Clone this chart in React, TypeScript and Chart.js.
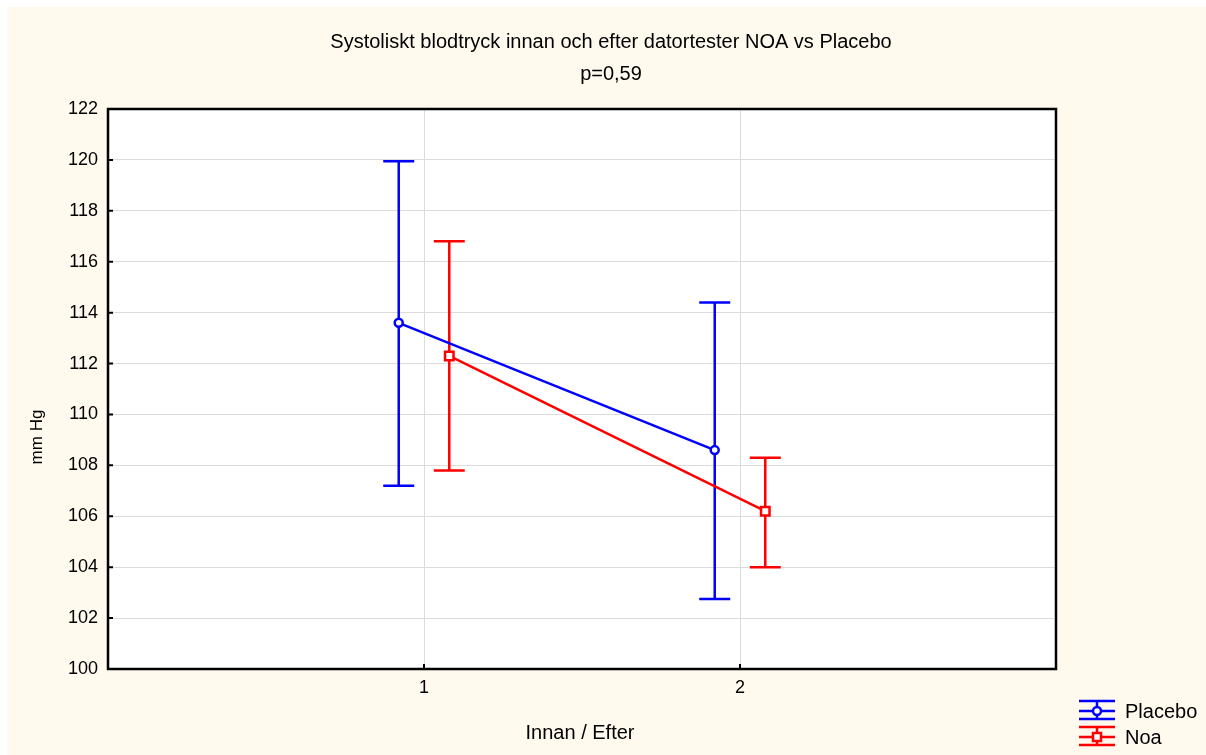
import React, { useEffect, useRef } from "react";
import { Chart, registerables } from "chart.js";

Chart.register(...registerables);

const titleLines = ["Systoliskt blodtryck innan och efter datortester NOA vs Placebo", "p=0,59"];
const xAxisTitle = "Innan / Efter";
const yAxisTitle = "mm Hg";
const categories = [1, 2];
const xTickLabels = ["1", "2"];
const yTicks = [100, 102, 104, 106, 108, 110, 112, 114, 116, 118, 120, 122];
const seriesNames = ["Placebo", "Noa"];
const placeboMean = [113.6, 108.6];
const placeboUpper = [119.95, 114.4];
const placeboLower = [107.2, 102.75];
const noaMean = [112.3, 106.2];
const noaUpper = [116.8, 108.3];
const noaLower = [107.8, 104.0];

const FONT = "'Liberation Sans', Arial, sans-serif";
const BLUE = "#0000ff";
const RED = "#ff0000";
const offsets = [-0.08, 0.08];
const colors = [BLUE, RED];
const pointStyles = ["circle", "rect"];
const pointRadii = [4, 6];
const means = [placeboMean, noaMean];
const uppers = [placeboUpper, noaUpper];
const lowers = [placeboLower, noaLower];

const decorPlugin = {
  id: "decor",
  beforeDraw(chart: any) {
    const { ctx, width, height, chartArea } = chart;
    ctx.save();
    ctx.fillStyle = "#ffffff";
    ctx.fillRect(0, 0, width, height);
    ctx.fillStyle = "#fff9ee";
    ctx.fillRect(7, 7, width - 7, height - 7);
    ctx.fillStyle = "#ffffff";
    ctx.fillRect(chartArea.left, chartArea.top, chartArea.right - chartArea.left, chartArea.bottom - chartArea.top);
    ctx.restore();
  },
  beforeDatasetsDraw(chart: any) {
    const { ctx } = chart;
    const xs = chart.scales.x;
    const ys = chart.scales.y;
    ctx.save();
    ctx.lineWidth = 2.5;
    for (let s = 0; s < 2; s++) {
      ctx.strokeStyle = colors[s];
      categories.forEach((c, i) => {
        const x = xs.getPixelForValue(c + offsets[s]);
        const yt = ys.getPixelForValue(uppers[s][i]);
        const yb = ys.getPixelForValue(lowers[s][i]);
        ctx.beginPath();
        ctx.moveTo(x, yt);
        ctx.lineTo(x, yb);
        ctx.moveTo(x - 15.5, yt);
        ctx.lineTo(x + 15.5, yt);
        ctx.moveTo(x - 15.5, yb);
        ctx.lineTo(x + 15.5, yb);
        ctx.stroke();
      });
    }
    ctx.restore();
  },
  afterDraw(chart: any) {
    const { ctx, chartArea } = chart;
    const xs = chart.scales.x;
    const ys = chart.scales.y;
    ctx.save();
    // frame
    ctx.strokeStyle = "#000";
    ctx.lineWidth = 2.5;
    ctx.strokeRect(chartArea.left, chartArea.top, chartArea.right - chartArea.left, chartArea.bottom - chartArea.top);
    // inner ticks
    ctx.lineWidth = 2;
    ctx.beginPath();
    yTicks.forEach((v) => {
      const y = ys.getPixelForValue(v);
      ctx.moveTo(chartArea.left, y);
      ctx.lineTo(chartArea.left + 5, y);
    });
    categories.forEach((v) => {
      const x = xs.getPixelForValue(v);
      ctx.moveTo(x, chartArea.bottom);
      ctx.lineTo(x, chartArea.bottom - 5);
    });
    ctx.stroke();
    // titles
    ctx.fillStyle = "#000";
    ctx.textAlign = "center";
    ctx.textBaseline = "middle";
    ctx.font = `20px ${FONT}`;
    ctx.fillText(titleLines[0], 611, 42);
    ctx.fillText(titleLines[1], 611, 74);
    ctx.font = `20px ${FONT}`;
    ctx.fillText(xAxisTitle, 580, 733);
    ctx.save();
    ctx.translate(37, 437);
    ctx.rotate(-Math.PI / 2);
    ctx.font = `17px ${FONT}`;
    ctx.fillText(yAxisTitle, 0, 0);
    ctx.restore();
    // legend
    const legendY = [711, 737];
    for (let s = 0; s < 2; s++) {
      const yc = legendY[s];
      ctx.strokeStyle = colors[s];
      ctx.lineWidth = 2.5;
      ctx.beginPath();
      ctx.moveTo(1079, yc - 10);
      ctx.lineTo(1115, yc - 10);
      ctx.moveTo(1079, yc);
      ctx.lineTo(1115, yc);
      ctx.moveTo(1079, yc + 8);
      ctx.lineTo(1115, yc + 8);
      ctx.moveTo(1097, yc - 10);
      ctx.lineTo(1097, yc + 8);
      ctx.stroke();
      ctx.fillStyle = "#fff";
      ctx.beginPath();
      if (s === 0) {
        ctx.arc(1097, yc, 4, 0, Math.PI * 2);
      } else {
        ctx.rect(1093, yc - 4, 8, 8);
      }
      ctx.fill();
      ctx.stroke();
      ctx.fillStyle = "#000";
      ctx.textAlign = "left";
      ctx.font = `20px ${FONT}`;
      ctx.fillText(seriesNames[s], 1125, yc + 1);
    }
    ctx.restore();
  },
};

export default function App() {
  const ref = useRef<HTMLCanvasElement | null>(null);
  useEffect(() => {
    if (!ref.current) return;
    const datasets = [0, 1].map((s) => ({
      label: seriesNames[s],
      data: categories.map((c, i) => ({ x: c + offsets[s], y: means[s][i] })),
      showLine: true,
      borderColor: colors[s],
      borderWidth: 2.5,
      pointStyle: pointStyles[s],
      pointRadius: pointRadii[s],
      pointBorderWidth: 2.5,
      pointBackgroundColor: "#ffffff",
      pointBorderColor: colors[s],
      pointHoverRadius: pointRadii[s],
    }));
    const chart = new Chart(ref.current, {
      type: "scatter",
      data: { datasets },
      options: {
        responsive: false,
        animation: false,
        devicePixelRatio: 1,
        layout: { padding: { top: 109, right: 150, left: 0, bottom: 0 } },
        plugins: {
          legend: { display: false },
          tooltip: { enabled: false },
          title: { display: false },
        },
        scales: {
          x: {
            type: "linear",
            min: 0,
            max: 3,
            afterBuildTicks: (s: any) => {
              s.ticks = categories.map((v) => ({ value: v }));
            },
            afterFit: (s: any) => {
              s.height = 86;
            },
            grid: { color: "#dcdcdc", drawTicks: false, lineWidth: 1 },
            border: { display: false },
            ticks: {
              padding: 8,
              color: "#000",
              font: { family: FONT, size: 18 },
              maxRotation: 0,
              autoSkip: false,
              callback: (v: any) => {
                const idx = categories.indexOf(Number(v));
                return idx >= 0 ? xTickLabels[idx] : "";
              },
            },
          },
          y: {
            type: "linear",
            min: 100,
            max: 122,
            afterBuildTicks: (s: any) => {
              s.ticks = yTicks.map((v) => ({ value: v }));
            },
            afterFit: (s: any) => {
              s.width = 108;
            },
            grid: { color: "#dcdcdc", drawTicks: false, lineWidth: 1 },
            border: { display: false },
            ticks: {
              padding: 10,
              color: "#000",
              font: { family: FONT, size: 18 },
              autoSkip: false,
            },
          },
        },
      },
      plugins: [decorPlugin],
    } as any);
    return () => chart.destroy();
  }, []);
  return (
    <div style={{ position: "fixed", left: 0, top: 0, width: 1206, height: 755, background: "#fff" }}>
      <canvas ref={ref} width={1206} height={755} style={{ display: "block", width: 1206, height: 755 }} />
    </div>
  );
}
